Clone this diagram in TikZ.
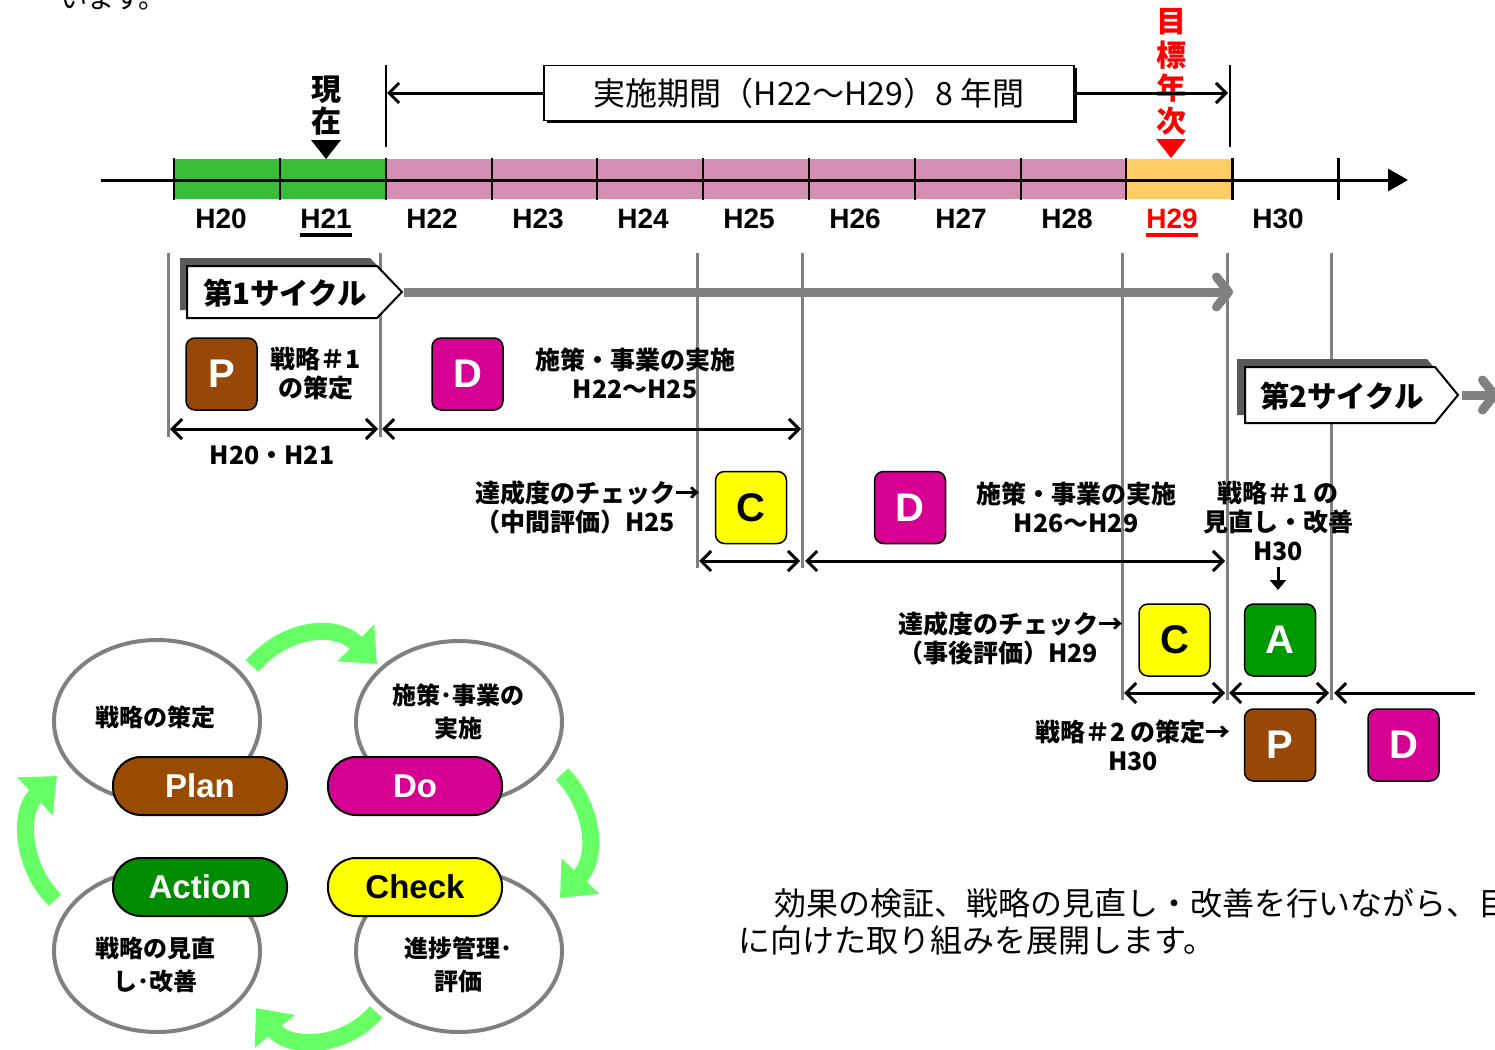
\documentclass[tikz,border=0pt]{standalone}
\usepackage{fontspec}
\setmainfont{Liberation Sans}
\newfontfamily\jp{Noto Sans CJK JP}
\usetikzlibrary{arrows.meta,shapes.geometric,shadows,calc}
\definecolor{bandgreen}{RGB}{57,189,57}
\definecolor{bandpink}{RGB}{214,143,180}
\definecolor{bandorange}{RGB}{255,204,102}
\definecolor{pbrown}{RGB}{151,72,6}
\definecolor{dmag}{RGB}{214,0,147}
\definecolor{cyel}{RGB}{255,255,0}
\definecolor{agreen}{RGB}{0,153,0}
\definecolor{lgray}{RGB}{128,128,128}
\definecolor{dgray}{RGB}{90,90,90}
\definecolor{cycgreen}{RGB}{102,255,102}
\definecolor{actgreen}{RGB}{0,140,0}
\definecolor{planbrown}{RGB}{153,76,0}
\tikzset{
  lettbox/.style={draw=black, line width=1.5pt, rounded corners=9pt, minimum width=71pt, minimum height=72pt, inner sep=0pt, font=\fontsize{40}{40}\selectfont\bfseries},
  vline/.style={draw=lgray, line width=3pt},
  barb/.tip={Straight Barb[length=10pt,width=20pt]},
  dbl/.style={draw=black, line width=3pt, barb-barb},
  yearlbl/.style={font=\fontsize{28}{28}\selectfont\bfseries, inner sep=0pt, anchor=base},
  jpb/.style={font=\jp\bfseries\fontsize{25}{29}\selectfont, align=center, inner sep=0pt},
  pill/.style={draw=black, line width=2pt, rounded corners=28pt, minimum width=174pt, minimum height=58pt, inner sep=0pt, font=\fontsize{33}{33}\selectfont\bfseries},
  cyc/.style={ellipse, draw=lgray, line width=4pt, minimum width=206pt, minimum height=162pt, inner sep=0pt},
  cyctext/.style={font=\jp\bfseries\fontsize{24}{33}\selectfont, align=center, inner sep=0pt},
  garrow/.style={draw=cycgreen, line width=17pt, -{Triangle[length=30pt,width=50pt]}},
  grayarr/.style={draw=lgray, line width=9pt, -{Straight Barb[length=12pt,width=30pt,round]}},
  pent/.style={draw=black, line width=2pt, fill=white},
}
\begin{document}
\begin{tikzpicture}[x=1pt,y=-1pt]
\useasboundingbox (0,0) rectangle (1495,1049);
\clip (0,0) rectangle (1495,1049);
\fill[white] (0,0) rectangle (1495,1049);

% top cut-off text
\node[anchor=base west, font=\jp\fontsize{27}{27}\selectfont, inner sep=0pt] (toptext) at (60,9) {います。};

% timeline band
\foreach \a/\b/\c in {174/280/bandgreen,280/386/bandgreen,386/492/bandpink,492/597/bandpink,597/703/bandpink,703/809/bandpink,809/915/bandpink,915/1021/bandpink,1021/1126/bandpink,1126/1232/bandorange}
  \fill[\c] (\a,159) rectangle (\b,199);
\coordinate (axL) at (101,180);
\coordinate (axR) at (1408,180);
\draw[line width=3pt, -{Triangle[length=20pt,width=22pt]}] (axL) -- (axR);
\foreach \x in {174,280,386,492,597,703,809,915,1021,1126}
  \draw[line width=2pt] (\x,158) -- (\x,200);
\foreach \x in {1232,1338}
  \draw[line width=3pt] (\x,158) -- (\x,200);

\foreach \lab/\xx in {H20/221,H22/432,H23/538,H24/643,H25/749,H26/855,H27/961,H28/1067,H30/1278}
  \node[yearlbl] (y\lab) at (\xx,228) {\lab};
\node[yearlbl] (yH21) at (326,228) {H21};
\draw[line width=3.5pt] ($(yH21.base west)+(0,7)$) -- ($(yH21.base east)+(0,7)$);
\node[yearlbl, text=red] (yH29) at (1172,228) {H29};
\draw[line width=3.5pt, red] ($(yH29.base west)+(0,7)$) -- ($(yH29.base east)+(0,7)$);

% now / target markers
\node[font=\jp\bfseries\fontsize{30}{32}\selectfont, align=center, inner sep=0pt] (now) at (326,106) {現\\在};
\fill (311,140) -- (341,140) -- (326,159) -- cycle;
\node[font=\jp\bfseries\fontsize{30}{33.3}\selectfont, align=center, inner sep=0pt, text=red] (target) at (1171,72) {目\\標\\年\\次};
\fill[red] (1156,139) -- (1186,139) -- (1171,158) -- cycle;

% period box
\draw[line width=1.5pt] (386,65) -- (386,147);
\draw[line width=1.5pt] (1230,65) -- (1230,147);
\node[draw, line width=1.5pt, fill=white, minimum width=530pt, minimum height=55pt, inner sep=0pt,
  general shadow={fill=black, shadow xshift=2.5pt, shadow yshift=-2.5pt},
  font=\jp\fontsize{32}{32}\selectfont] (period) at (809,93) {実施期間（H22～H29）8 年間};
\coordinate (perL) at (387,93);
\coordinate (perR) at (1228,93);
\draw[line width=3pt, -barb] (period.west) -- (perL);
\draw[line width=3pt, -barb] (period.east) -- (perR);

% gray vertical guide lines
\foreach \x/\b in {168/437,380/437,697/568,802/568,1122/700,1227/700,1331/700}
  \draw[vline] (\x,253) -- (\x,\b);

% cycle 1
\coordinate (g1s) at (404,292);
\coordinate (g1e) at (1233,292);
\draw[grayarr] (g1s) -- (g1e);
\fill[dgray] (180,258) -- (370,258) -- (395,284) -- (370,310) -- (180,310) -- cycle;
\draw[pent] (187,266) -- (377,266) -- (402,292) -- (377,318) -- (187,318) -- cycle;
\node[font=\jp\bfseries\fontsize{29.5}{29.5}\selectfont, inner sep=0pt] (cyc1) at (285,293) {第1サイクル};

% cycle 2
\coordinate (g2s) at (1462,395);
\coordinate (g2e) at (1499,395);
\draw[grayarr] (g2s) -- (g2e);
\fill[dgray] (1237,359) -- (1427,359) -- (1450,387) -- (1427,415) -- (1237,415) -- cycle;
\draw[pent] (1245,367) -- (1435,367) -- (1458,395) -- (1435,423) -- (1245,423) -- cycle;
\node[font=\jp\bfseries\fontsize{29.5}{29.5}\selectfont, inner sep=0pt] (cyc2) at (1342,396) {第2サイクル};

% letter boxes
\node[lettbox, fill=pbrown, text=white] (p1) at (221.5,374) {P};
\node[lettbox, fill=dmag, text=white] (d1) at (467.5,374) {D};
\node[lettbox, fill=cyel, text=black] (c1) at (751,507.5) {C};
\node[lettbox, fill=dmag, text=white] (d2) at (910,507.5) {D};
\node[lettbox, fill=cyel, text=black] (c2) at (1174.5,640) {C};
\node[lettbox, fill=agreen, text=white] (a1) at (1280,640) {A};
\node[lettbox, fill=pbrown, text=white] (p2) at (1280,745) {P};
\node[lettbox, fill=dmag, text=white] (d3) at (1403.5,745) {D};

% labels
\node[jpb] (tp1) at (316,374) {戦略＃1\\の策定};
\node[jpb] (td1) at (635,373) {施策・事業の実施\\H22～H25};
\node[jpb] (th2021) at (272,455) {H20・H21};
\node[jpb, align=left, anchor=west] (tc1) at (475,507) {達成度のチェック→\\（中間評価）H25};
\node[jpb] (td2) at (1076,507) {施策・事業の実施\\H26～H29};
\node[jpb] (ta1) at (1278,521) {戦略＃1 の\\見直し・改善\\H30};
\node[jpb, align=left, anchor=west] (tc2) at (898,638) {達成度のチェック→\\（事後評価）H29};
\node[jpb] (tp2) at (1133,745) {戦略＃2 の策定→\\H30};

% double arrows
\coordinate (r1a) at (170,429); \coordinate (r1b) at (378,429);
\coordinate (r1c) at (382,429); \coordinate (r1d) at (801,429);
\draw[dbl] (r1a) -- (r1b);
\draw[dbl] (r1c) -- (r1d);
\coordinate (r2a) at (699,561); \coordinate (r2b) at (800,561);
\coordinate (r2c) at (805,561); \coordinate (r2d) at (1225,561);
\draw[dbl] (r2a) -- (r2b);
\draw[dbl] (r2c) -- (r2d);
\coordinate (r3a) at (1124,693); \coordinate (r3b) at (1225,693);
\coordinate (r3c) at (1229,693); \coordinate (r3d) at (1329,693);
\coordinate (r3e) at (1334,693); \coordinate (r3f) at (1475,693);
\draw[dbl] (r3a) -- (r3b);
\draw[dbl] (r3c) -- (r3d);
\draw[draw=black, line width=3pt, barb-] (r3e) -- (r3f);
\coordinate (sa1) at (1278,567); \coordinate (sa2) at (1278,590);
\draw[line width=3pt, -{Triangle[length=10pt,width=16pt]}] (sa1) -- (sa2);

% PDCA cycle
\node[cyc] (e1) at (157,721) {};
\node[cyc] (e2) at (459,722) {};
\node[cyc] (e3) at (157,951) {};
\node[cyc] (e4) at (459,951) {};
\node[cyctext] (te1) at (155,717) {戦略の策定};
\node[cyctext] (te2) at (458,712) {施策･事業の\\実施};
\node[cyctext] (te3) at (155,965) {戦略の見直\\し･改善};
\node[cyctext] (te4) at (458,965) {進捗管理･\\評価};
\node[pill, fill=planbrown, text=white] (plan) at (200,786) {Plan};
\node[pill, fill=dmag, text=white] (do) at (415,786) {Do};
\node[pill, fill=actgreen, text=white] (action) at (200,887) {Action};
\node[pill, fill=cyel, text=black] (check) at (415,887) {Check};
\coordinate (ga1) at (252,666); \coordinate (ga2) at (377,664);
\draw[garrow] (ga1) .. controls (285,628) and (335,622) .. (ga2);
\coordinate (gb1) at (562,774); \coordinate (gb2) at (560,898);
\draw[garrow] (gb1) .. controls (592,805) and (600,855) .. (gb2);
\coordinate (gc1) at (376,1012); \coordinate (gc2) at (256,1008);
\draw[garrow] (gc1) .. controls (345,1048) and (290,1050) .. (gc2);
\coordinate (gd1) at (55,900); \coordinate (gd2) at (57,776);
\draw[garrow] (gd1) .. controls (22,868) and (18,812) .. (gd2);

% bottom paragraph
\node[anchor=base west, font=\jp\fontsize{32}{37}\selectfont, inner sep=0pt] (para1) at (742,915) {　効果の検証、戦略の見直し・改善を行いながら、目};
\node[anchor=base west, font=\jp\fontsize{32}{37}\selectfont, inner sep=0pt] (para2) at (738,952) {に向けた取り組みを展開します。};
\end{tikzpicture}
\end{document}
